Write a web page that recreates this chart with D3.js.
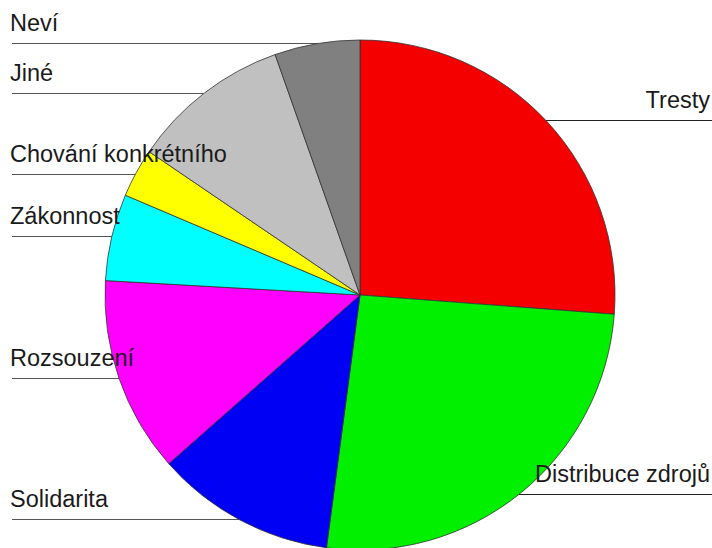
<!DOCTYPE html>
<html>
<head>
<meta charset="utf-8">
<script src="https://cdn.jsdelivr.net/npm/d3@7"></script>
<style>
  html, body { margin: 0; padding: 0; background: #fff; }
  svg { display: block; }
  text { font-family: "Liberation Sans", Arial, sans-serif; }
</style>
</head>
<body>
<svg id="chart" width="712" height="548"></svg>
<script>
// Categories clockwise from 12 o'clock, with their shares (%)
const categories = ["Tresty", "Distribuce zdrojů", "Solidarita", "Rozsouzení",
                    "Zákonnost", "Chování konkrétního", "Jiné", "Neví"];
const shares = [26.2, 25.9, 11.4, 12.4, 5.5, 3.1, 10.1, 5.4];
const colors = ["#f50000", "#00f000", "#0000f5", "#ff00ff",
                "#00ffff", "#ffff00", "#c0c0c0", "#808080"];

// Label placement: side of the chart and baseline of the text
const labelLayout = [
  { side: "right", y: 108 },
  { side: "right", y: 482 },
  { side: "left",  y: 507 },
  { side: "left",  y: 366 },
  { side: "left",  y: 224 },
  { side: "left",  y: 162 },
  { side: "left",  y: 81 },
  { side: "left",  y: 31 }
];

const W = 712, H = 548;
const cx = 360, cy = 295, R = 255;
const svg = d3.select("#chart");

const data = categories.map((c, i) => ({ name: c, value: shares[i], color: colors[i], layout: labelLayout[i] }));

const pie = d3.pie().value(d => d.value).sort(null);
const arc = d3.arc().innerRadius(0).outerRadius(R);
const arcs = pie(data);

// Leader lines: horizontal underline from the label to the rim of the pie
function rimX(y, side) {
  const dy = y - cy;
  const dx = Math.sqrt(Math.max(0, R * R - dy * dy));
  return side === "left" ? cx - dx : cx + dx;
}

const lines = svg.append("g");
data.forEach(d => {
  const ly = d.layout.y + 12.5;
  const left = d.layout.side === "left";
  lines.append("line")
    .attr("x1", left ? 12 : rimX(ly, "right"))
    .attr("x2", left ? rimX(ly, "left") : W)
    .attr("y1", ly).attr("y2", ly)
    .attr("stroke", left ? "#555" : "#222")
    .attr("stroke-width", 1.2);
});

// Slices
svg.append("g")
  .attr("transform", `translate(${cx},${cy})`)
  .selectAll("path")
  .data(arcs)
  .join("path")
  .attr("d", arc)
  .attr("fill", d => d.data.color)
  .attr("stroke", "#333")
  .attr("stroke-width", 0.8)
  .attr("stroke-linejoin", "round");

// Labels
svg.append("g")
  .selectAll("text")
  .data(data)
  .join("text")
  .attr("x", d => d.layout.side === "left" ? 10 : 710)
  .attr("y", d => d.layout.y)
  .attr("text-anchor", d => d.layout.side === "left" ? "start" : "end")
  .attr("font-size", 23.5)
  .attr("fill", "#1a1a1a")
  .text(d => d.name);
</script>
</body>
</html>
